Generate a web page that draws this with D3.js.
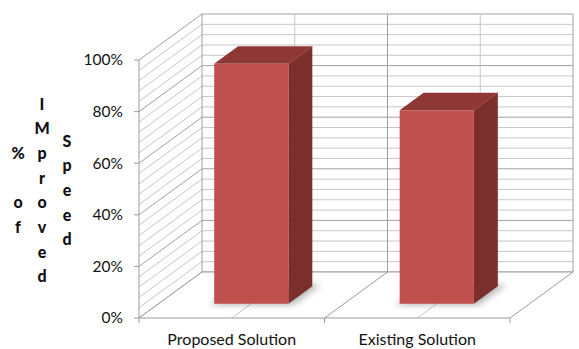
<!DOCTYPE html>
<html>
<head>
<meta charset="utf-8">
<script src="https://cdn.jsdelivr.net/npm/d3@7"></script>
<style>
  html, body { margin: 0; padding: 0; background: #fff; }
  svg { display: block; }
</style>
</head>
<body>
<div id="chart"></div>
<script>
// ---- data ----
const categories = ["Proposed Solution", "Existing Solution"];
const values = [93, 75];
const tickValues = [0, 20, 40, 60, 80, 100];
const tickLabels = ["0%", "20%", "40%", "60%", "80%", "100%"];
const titleColumns = ["% of", "IMproved", "Speed"];

// ---- layout ----
const W = 579, H = 349;
const svg = d3.select("#chart").append("svg").attr("width", W).attr("height", H);

const y = d3.scaleLinear().domain([0, 100]).range([318, 60]);
const x = d3.scaleBand().domain(categories).range([139, 510]).paddingInner(0).paddingOuter(0);
const DX = 63, DY = -46;           // full depth offset
const P = (sx, v, d) => [sx + d * DX, y(v) + d * DY];
const minorStep = 4;
const gridVals = d3.range(0, 100 + 0.001, minorStep);

const minorC = "#c6c6c6", majorC = "#a0a0a0", edgeC = "#9c9c9c";
const line = d3.line();
const FONT = "Lato, 'Open Sans', sans-serif";

const x0 = x.range()[0], x1 = x.range()[1];

// walls
svg.append("path").attr("fill", "#fff")
  .attr("d", line([P(x0,0,0), P(x0,100,0), P(x0,100,1), P(x0,0,1)]) + "Z");
svg.append("path").attr("fill", "#fff")
  .attr("d", line([P(x0,0,1), P(x0,100,1), P(x1,100,1), P(x1,0,1)]) + "Z");

const grid = svg.append("g").attr("fill", "none");
// back wall horizontal + left wall diagonals
gridVals.forEach(v => {
  const major = Math.abs(v % 20) < 0.001;
  grid.append("path").attr("d", line([P(x0,v,0), P(x0,v,1), P(x1,v,1)]))
    .attr("stroke", major ? majorC : minorC).attr("stroke-width", 1);
});
// back wall verticals
const bounds = [x0, ...categories.map(c => x(c) + x.bandwidth())];
const mids = categories.map(c => x(c) + x.bandwidth() / 2);
mids.forEach(m => grid.append("path").attr("d", line([P(m,0,1), P(m,100,1)]))
  .attr("stroke", minorC));
bounds.forEach(b => grid.append("path").attr("d", line([P(b,0,1), P(b,100,1)]))
  .attr("stroke", majorC));
// left wall front edge (axis)
grid.append("path").attr("d", line([P(x0,0,0), P(x0,100,0)])).attr("stroke", edgeC);

// floor
svg.append("path").attr("fill", "#fff")
  .attr("d", line([P(x0,0,0), P(x1,0,0), P(x1,0,1), P(x0,0,1)]) + "Z");
const floorG = svg.append("g").attr("fill", "none").attr("stroke", edgeC);
bounds.forEach(b => floorG.append("path").attr("d", line([P(b,0,0), P(b,0,1)])));
mids.forEach(m => floorG.append("path").attr("d", line([P(m,0,0), P(m,0,1)])).attr("stroke", minorC));
floorG.append("path").attr("d", line([P(x0,0,0), P(x1,0,0)]));
floorG.append("path").attr("d", line([P(x0,0,1), P(x1,0,1)]));
// category tick marks
bounds.forEach(b => floorG.append("path").attr("d", line([[b, y(0)], [b, y(0) + 5]])));

// y ticks
const axisG = svg.append("g");
tickValues.forEach((v, i) => {
  axisG.append("line").attr("x1", x0 - 5).attr("x2", x0).attr("y1", y(v)).attr("y2", y(v))
    .attr("stroke", edgeC);
  axisG.append("text").attr("x", x0 - 16).attr("y", y(v)).attr("dy", "0.35em")
    .attr("text-anchor", "end").attr("font-family", FONT)
    .attr("font-size", 15.5).attr("fill", "#111").text(tickLabels[i]);
});

// bars
const defs = svg.append("defs");
defs.append("filter").attr("id", "blur").attr("x", "-50%").attr("y", "-50%")
  .attr("width", "200%").attr("height", "200%")
  .append("feGaussianBlur").attr("stdDeviation", 3);

const d0 = 0.31, d1 = 0.69, barFrac = 0.4;
categories.forEach((c, i) => {
  const cx = x(c) + x.bandwidth() / 2;
  const bw = x.bandwidth() * barFrac;
  const l = cx - bw / 2, r = cx + bw / 2, v = values[i];
  const g = svg.append("g");
  // shadow
  g.append("path").attr("fill", "#777").attr("opacity", 0.55).attr("filter", "url(#blur)")
    .attr("d", line([P(l - 3, 0, d0 - 0.02), P(r + 6, 0, d0 - 0.02), P(r + 6, 0, d1 + 0.04), P(l - 3, 0, d1 + 0.04)]) + "Z");
  // side
  g.append("path").attr("fill", "#7a2f2d")
    .attr("d", line([P(r,0,d0), P(r,v,d0), P(r,v,d1), P(r,0,d1)]) + "Z");
  // top
  g.append("path").attr("fill", "#8e3836")
    .attr("d", line([P(l,v,d0), P(r,v,d0), P(r,v,d1), P(l,v,d1)]) + "Z");
  // front
  g.append("path").attr("fill", "#c0504d")
    .attr("d", line([P(l,0,d0), P(r,0,d0), P(r,v,d0), P(l,v,d0)]) + "Z");
  // subtle edge highlights
  g.append("path").attr("fill", "none").attr("stroke", "#a8443f").attr("stroke-width", 1)
    .attr("d", line([P(r,v,d0), P(r,v,d1)]));
});

// category labels
categories.forEach(c => {
  svg.append("text").attr("x", x(c) + x.bandwidth() / 2).attr("y", 345)
    .attr("text-anchor", "middle").attr("font-family", FONT)
    .attr("font-size", 16).attr("fill", "#111").text(c);
});

// axis title: stacked letters in columns
const colX = [18, 42, 67];
const lineH = 24.7, centerBase = 196;
titleColumns.forEach((str, ci) => {
  const chars = Array.from(str);
  const n = chars.length;
  chars.forEach((ch, k) => {
    if (ch === " ") return;
    svg.append("text").attr("x", colX[ci]).attr("y", centerBase + (k - (n - 1) / 2) * lineH)
      .attr("text-anchor", "middle").attr("font-family", FONT)
      .attr("font-weight", "900").attr("font-size", 16).attr("fill", "#111").text(ch);
  });
});
</script>
</body>
</html>
